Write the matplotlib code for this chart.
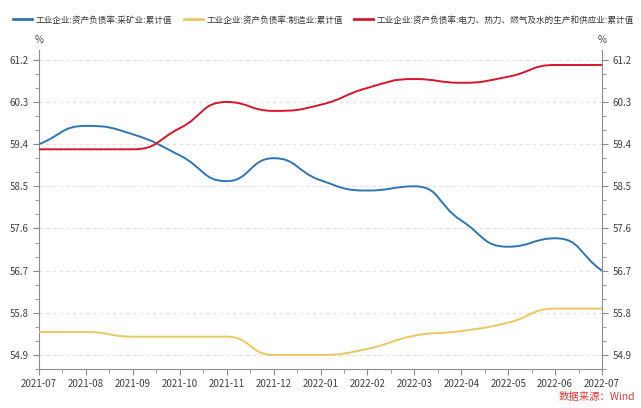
import matplotlib.pyplot as plt
from matplotlib.path import Path
from matplotlib.patches import PathPatch
from matplotlib.lines import Line2D
from matplotlib.ticker import MultipleLocator

plt.rcParams['font.family'] = ['Noto Sans CJK SC', 'DejaVu Sans']

# données
mois = ['2021-07', '2021-08', '2021-09', '2021-10', '2021-11', '2021-12', '2022-01',
        '2022-02', '2022-03', '2022-04', '2022-05', '2022-06', '2022-07']
caikuang = [59.40, 59.79, 59.61, 59.16, 58.61, 59.10, 58.63, 58.41, 58.50, 57.77, 57.21, 57.39, 56.70]
zhizao = [55.39, 55.39, 55.29, 55.29, 55.29, 54.90, 54.90, 55.03, 55.31, 55.41, 55.59, 55.89, 55.89]
dianli = [59.29, 59.29, 59.29, 59.74, 60.30, 60.11, 60.24, 60.60, 60.79, 60.71, 60.84, 61.09, 61.09]

noms = ['工业企业:资产负债率:采矿业:累计值',
        '工业企业:资产负债率:制造业:累计值',
        '工业企业:资产负债率:电力、热力、燃气及水的生产和供应业:累计值']
couleurs = ['#2e75b6', '#eac862', '#d7162b']


# courbe lissée (bezier, points de controle bornés -> pas de dépassement)
def chemin_lisse(ys, smooth=0.5):
    pts = list(zip(range(len(ys)), ys))
    n = len(pts)
    cps = []
    for i in range(n):
        x, y = pts[i]
        px, py = pts[i - 1] if i > 0 else pts[i]
        nx, ny = pts[i + 1] if i < n - 1 else pts[i]
        vx, vy = (nx - px) * smooth, (ny - py) * smooth
        d0 = ((x - px) ** 2 + (y - py) ** 2) ** 0.5
        d1 = ((x - nx) ** 2 + (y - ny) ** 2) ** 0.5
        s = d0 + d1
        if s != 0:
            d0, d1 = d0 / s, d1 / s
        # borner le décalage vertical dans chaque segment
        k = 1.0
        if vy != 0:
            dy_av = -vy * d0
            dy_ap = vy * d1
            lim_av = py - y
            lim_ap = ny - y
            if dy_av != 0:
                if lim_av == 0 or dy_av * lim_av < 0:
                    k = 0.0
                else:
                    k = min(k, lim_av / dy_av)
            if dy_ap != 0:
                if lim_ap == 0 or dy_ap * lim_ap < 0:
                    k = 0.0
                else:
                    k = min(k, lim_ap / dy_ap)
        vy = vy * k
        cps.append(((x - vx * d0, y - vy * d0), (x + vx * d1, y + vy * d1)))
    verts = [pts[0]]
    codes = [Path.MOVETO]
    for i in range(n - 1):
        verts += [cps[i][1], cps[i + 1][0], pts[i + 1]]
        codes += [Path.CURVE4] * 3
    return Path(verts, codes)


fig = plt.figure(figsize=(6.41, 4.08), dpi=100)
ax = fig.add_axes([39 / 641, 39 / 408, 563 / 641, 319 / 408])

for serie, c in zip([caikuang, zhizao, dianli], couleurs):
    ax.add_patch(PathPatch(chemin_lisse(serie), fill=False, edgecolor=c, lw=1.4, zorder=3))

ax.set_xlim(0, len(mois) - 1)
ax.set_ylim(54.6, 61.41)
ax.set_xticks(range(len(mois)))
ax.set_xticklabels(mois)
ax.xaxis.set_minor_locator(MultipleLocator(0.5))
ax.set_yticks([54.9, 55.8, 56.7, 57.6, 58.5, 59.4, 60.3, 61.2])
ax.yaxis.set_minor_locator(MultipleLocator(0.3))
ax.grid(axis='y', which='major', color='#e0e0e0', ls=(0, (3, 3)), lw=0.8)

gris = '#8c8c8c'
ax.spines['top'].set_visible(False)
for cote in ['left', 'right', 'bottom']:
    ax.spines[cote].set_color(gris)
ax.tick_params(axis='both', which='both', colors=gris, labelcolor='#404040', labelsize=7)
ax.tick_params(axis='y', which='major', length=4, labelright=True, right=True)
ax.tick_params(axis='y', which='minor', length=3, right=True)
ax.tick_params(axis='x', which='major', length=4, pad=3)
ax.tick_params(axis='x', which='minor', length=3)

fig.text(39 / 641, 1 - 40 / 408, '%', ha='center', va='center', fontsize=7, color='#404040')
fig.text(602 / 641, 1 - 40 / 408, '%', ha='center', va='center', fontsize=7, color='#404040')

poignees = [Line2D([], [], color=c, lw=2) for c in couleurs]
fig.legend(poignees, noms, loc='center', bbox_to_anchor=(0.505, 1 - 20 / 408), ncol=3,
           frameon=False, fontsize=6.2, handlelength=2.2, handletextpad=0.45, columnspacing=1.3,
           labelcolor='#333333', borderpad=0, borderaxespad=0)

fig.text(635 / 641, 1 - 397 / 408, '数据来源：Wind', ha='right', va='center', fontsize=7.5, color='#e53935')

fig.savefig('out.png', dpi=100)
